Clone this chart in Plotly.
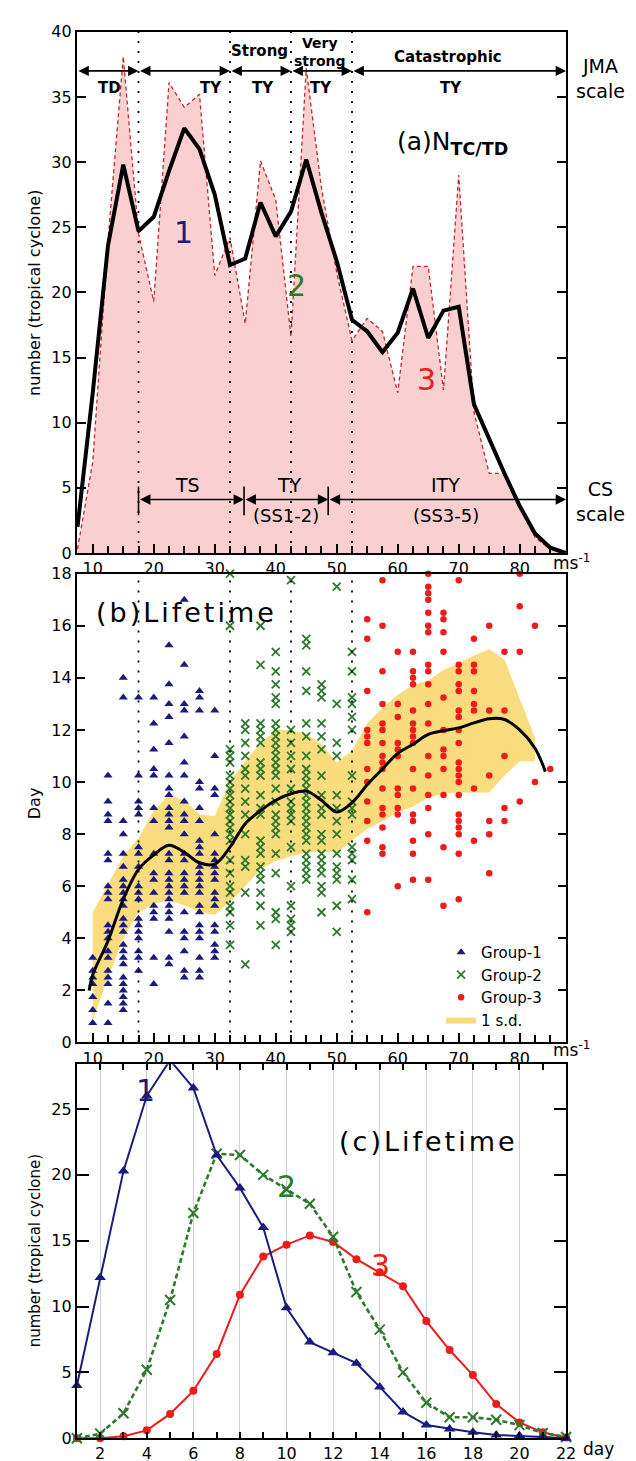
import plotly.graph_objects as go

W, H = 636, 1461
FONT = "DejaVu Sans"

# ---------------- Panel (a) data ----------------
speed_a = [7.5, 10, 12.5, 15, 17.5, 20, 22.5, 25, 27.5, 30, 32.5, 35, 37.5, 40, 42.5, 45,
           47.5, 50, 52.5, 55, 57.5, 60, 62.5, 65, 67.5, 70, 72.5, 75, 77.5, 80, 82.5, 85, 87.5]
count_raw = [0.3, 7.0, 24.0, 38.1, 24.5, 19.3, 36.1, 34.2, 35.2, 21.3, 24.2, 17.6, 30.1, 27.1, 16.6, 37.2,
             28.0, 21.5, 16.3, 18.0, 17.0, 12.3, 22.0, 22.0, 12.5, 29.0, 10.8, 6.1, 6.1, 3.5, 1.2, 0.3, 0.0]
count_smooth = [2.0, 12.3, 23.6, 29.8, 24.7, 25.8, 29.3, 32.6, 31.0, 27.5, 22.1, 22.6, 26.9, 24.3, 26.2, 30.2,
                26.1, 22.4, 17.9, 17.0, 15.4, 16.9, 20.3, 16.5, 18.6, 18.9, 11.4, 8.7, 6.1, 3.6, 1.5, 0.4, 0.0]

jma_bounds = [7.4, 17.5, 32.5, 42.5, 52.5, 87.6]
cs_bounds = [17.5, 34.8, 48.6, 87.6]
dotted_x = [17.5, 32.5, 42.5, 52.5]

# ---------------- Panel (b) data ----------------
g1_speed = [10, 12.5, 15, 17.5, 20, 22.5, 25, 27.5, 30]
g1_days = [
    [3.25, 2.75, 2.5, 2.25, 1.75, 1.25, 0.75],
    [10.25, 9.25, 8.75, 8.5, 7.25, 7.0, 6.0, 5.75, 5.5, 4.5, 4.25, 4.0, 3.5, 3.25, 2.75, 2.5, 2.25, 1.5, 0.75],
    [14.0, 13.25, 8.5, 8.0, 7.25, 6.75, 6.25, 6.0, 5.75, 5.5, 5.25, 4.75, 4.5, 4.25, 3.75, 3.5, 3.25, 3.0,
     2.5, 2.25, 2.0, 1.75, 1.5, 1.25],
    [13.25, 10.25, 9.25, 9.0, 8.75, 7.5, 7.25, 6.75, 6.0, 5.75, 5.5, 4.75, 4.5, 4.25, 4.0, 3.5, 3.25, 2.75],
    [13.25, 12.25, 11.25, 10.5, 10.25, 9.0, 8.5, 7.25, 6.5, 6.25, 5.75, 5.25, 5.0, 4.75, 3.25, 2.25],
    [15.25, 13.75, 13.0, 12.5, 11.5, 10.25, 9.75, 9.5, 9.0, 8.75, 8.5, 8.25, 7.25, 7.0, 6.5, 6.25, 6.0,
     5.75, 5.5, 5.25, 5.0, 4.75, 4.25, 3.25, 3.0],
    [17.0, 14.5, 13.0, 12.75, 11.75, 10.75, 10.25, 9.25, 8.75, 8.5, 8.0, 7.25, 7.0, 6.5, 6.25, 6.0, 5.75,
     5.0, 4.25, 4.0, 3.5, 2.75, 2.5],
    [13.5, 13.25, 12.75, 10.0, 9.75, 9.0, 8.5, 7.75, 7.5, 7.25, 6.75, 6.5, 6.25, 6.0, 5.75, 5.25, 5.0, 4.5,
     4.25, 4.0, 3.25, 2.75, 2.5],
    [12.75, 11.0, 9.75, 9.5, 8.0, 7.25, 7.0, 6.75, 6.5, 6.25, 5.75, 5.5, 5.25, 4.5, 4.25, 3.75, 3.5, 3.25],
]
g2_speed = [32.5, 35, 37.5, 40, 42.5, 45, 47.5, 50, 52.5]
g2_days = [
    [18.0, 16.0, 11.25, 11.0, 10.75, 10.25, 10.0, 9.75, 9.5, 9.25, 9.0, 8.75, 8.5, 8.25, 8.0, 7.75, 7.0,
     6.5, 6.0, 5.75, 5.25, 5.0, 4.5, 3.75],
    [18.75, 12.25, 12.0, 11.5, 11.0, 10.5, 10.25, 9.75, 9.25, 8.75, 8.0, 7.0, 6.75, 5.75, 3.0],
    [16.0, 14.5, 12.25, 12.0, 11.75, 11.5, 10.75, 10.5, 10.25, 9.5, 9.0, 8.75, 7.75, 7.5, 7.25, 6.75, 6.5,
     6.25, 5.75, 5.25, 4.5],
    [15.0, 14.25, 13.75, 13.25, 13.0, 12.25, 12.0, 11.75, 11.5, 11.25, 11.0, 10.75, 10.5, 10.25, 9.75,
     9.25, 8.75, 8.5, 8.25, 8.0, 7.25, 6.5, 5.0, 4.75, 3.75],
    [17.75, 12.0, 11.5, 11.0, 10.5, 9.75, 9.25, 9.0, 8.75, 8.5, 7.5, 6.0, 5.25, 4.75, 4.5, 4.25],
    [15.5, 15.25, 14.25, 13.5, 12.25, 11.75, 11.0, 10.5, 10.25, 10.0, 9.75, 9.5, 9.25, 9.0, 8.75, 8.5,
     8.25, 8.0, 7.75, 7.25, 7.0, 6.75, 6.5, 6.25],
    [13.75, 13.5, 13.25, 12.25, 11.75, 11.25, 10.25, 9.5, 9.0, 8.75, 8.0, 7.75, 7.25, 7.0, 6.75, 6.5, 6.0,
     5.75, 5.0],
    [17.5, 13.0, 11.5, 11.0, 9.5, 9.0, 8.5, 8.0, 7.25, 6.75, 6.5, 6.25, 5.25, 4.25],
    [15.0, 14.25, 13.25, 13.0, 12.5, 12.0, 10.25, 9.25, 9.0, 8.75, 7.5, 7.25, 7.0, 6.25, 5.5],
]
g3_speed = [55, 57.5, 60, 62.5, 65, 67.5, 70, 72.5, 75, 77.5, 80, 82.5, 85]
g3_days = [
    [16.25, 15.5, 13.5, 12.0, 11.75, 11.5, 10.5, 10.0, 9.25, 8.5, 7.75, 5.0],
    [17.75, 16.0, 14.25, 13.0, 12.25, 12.0, 11.5, 11.0, 10.75, 10.5, 9.75, 9.0, 8.75, 8.25, 7.5, 7.25],
    [15.0, 13.0, 12.5, 11.5, 11.25, 11.0, 9.75, 9.5, 9.0, 8.75, 6.0],
    [15.0, 14.25, 14.0, 13.75, 12.75, 12.25, 12.0, 11.75, 11.5, 10.5, 9.75, 8.75, 8.5, 7.75, 7.25, 6.25],
    [18.0, 17.5, 17.25, 17.0, 16.5, 16.0, 15.75, 14.5, 14.25, 13.75, 13.0, 12.25, 11.0, 10.25, 9.5, 9.0,
     8.0, 6.25],
    [16.5, 16.25, 15.75, 15.0, 13.25, 12.0, 11.25, 11.0, 10.5, 9.5, 7.5, 5.25],
    [18.25, 17.75, 14.5, 14.25, 13.75, 13.5, 12.75, 12.5, 12.0, 11.5, 10.75, 10.5, 10.25, 10.0, 9.5, 8.75,
     8.5, 8.25, 8.0, 7.25, 5.5],
    [15.5, 14.5, 14.25, 13.5, 13.0, 12.75, 9.75, 7.75],
    [16.0, 12.75, 10.25, 8.5, 8.0, 6.5],
    [18.75, 18.5, 15.0, 12.75, 11.0, 9.0, 8.5],
    [18.0, 16.75, 15.0, 9.25],
    [16.0, 10.0],
    [10.5],
]

curve_x = [9.4, 10, 12.5, 15, 17.5, 20, 22.5, 25, 27.5, 30, 32.5, 35, 37.5, 40, 42.5, 45, 47.5, 50,
           52.5, 55, 57.5, 60, 62.5, 65, 67.5, 70, 72.5, 75, 77.5, 80, 82.5, 84.2]
curve_y = [2.0, 2.6, 3.9, 5.5, 6.65, 7.2, 7.57, 7.3, 6.9, 6.85, 7.5, 8.4, 8.9, 9.3, 9.55, 9.65, 9.3, 8.85,
           9.2, 9.9, 10.5, 11.1, 11.45, 11.83, 11.97, 12.08, 12.27, 12.43, 12.4, 12.0, 11.3, 10.4]

band_x = [10, 12.5, 15, 17.5, 20, 22.5, 25, 27.5, 30, 32.5, 35, 37.5, 40, 42.5, 45, 47.5, 50, 52.5,
          55, 57.5, 60, 62.5, 65, 67.5, 70, 72.5, 75, 77.5, 80, 82.5]
band_hi = [5.0, 6.1, 7.15, 7.85, 8.9, 9.5, 9.3, 8.75, 8.7, 10.0, 10.8, 11.5, 12.0, 12.0, 11.85, 11.45,
           10.75, 11.2, 12.27, 12.84, 13.35, 13.73, 13.9, 14.3, 14.55, 14.86, 15.1, 14.7, 13.2, 11.7]
band_lo = [0.85, 2.5, 4.0, 5.0, 5.33, 5.45, 5.27, 5.0, 4.9, 5.4, 6.0, 6.65, 6.97, 7.15, 7.3, 7.3, 7.3,
           7.75, 8.2, 8.5, 8.85, 9.05, 9.4, 9.55, 9.6, 9.6, 9.6, 10.25, 10.8, 10.8]

# ---------------- Panel (c) data ----------------
days = [1, 2, 3, 4, 5, 6, 7, 8, 9, 10, 11, 12, 13, 14, 15, 16, 17, 18, 19, 20, 21, 22]
life_g1 = [4.0, 12.2, 20.3, 26.0, 28.7, 26.6, 21.5, 19.0, 16.0, 9.9, 7.3, 6.5, 5.7, 3.9, 2.0, 1.0, 0.7,
           0.45, 0.25, 0.2, 0.1, 0.0]
life_g2 = [0.0, 0.35, 1.9, 5.2, 10.5, 17.1, 21.6, 21.5, 20.0, 18.9, 17.8, 15.3, 11.1, 8.25, 5.0, 2.7, 1.6,
           1.6, 1.4, 1.0, 0.4, 0.1]
life_g3 = [0.0, 0.0, 0.15, 0.6, 1.85, 3.6, 6.4, 10.9, 13.8, 14.7, 15.4, 14.9, 13.6, 12.6, 11.55, 8.9, 6.7,
           4.8, 2.6, 1.2, 0.45, 0.05]

NAVY = "#1B1B7E"
GREEN = "#2C7A2C"
RED = "#EE1B1B"
PINK = "#F9CFCF"
DKRED = "#C0282D"
YELLOW = "#F9DC7D"


def expand(speeds, cols):
    xs, ys = [], []
    for s, col in zip(speeds, cols):
        for d in col:
            xs.append(s)
            ys.append(d)
    return xs, ys


def px_x(p):
    return p / W


def px_y(p):
    return (H - p) / H


fig = go.Figure()

# ---- panel a traces
fig.add_trace(go.Scatter(x=speed_a, y=count_raw, mode="lines", fill="tozeroy", fillcolor=PINK,
                         line=dict(color=DKRED, width=1.3, dash="4px,3px"), showlegend=False,
                         xaxis="x", yaxis="y"))
fig.add_trace(go.Scatter(x=speed_a, y=count_smooth, mode="lines",
                         line=dict(color="black", width=4), showlegend=False, xaxis="x", yaxis="y"))

# ---- panel b traces
fig.add_trace(go.Scatter(x=band_x + band_x[::-1], y=band_hi + band_lo[::-1], mode="lines",
                         fill="toself", fillcolor=YELLOW, line=dict(width=0, color=YELLOW),
                         name="1 s.d.", legendrank=4, xaxis="x2", yaxis="y2"))
x1, y1 = expand(g1_speed, g1_days)
x2, y2 = expand(g2_speed, g2_days)
x3, y3 = expand(g3_speed, g3_days)
fig.add_trace(go.Scatter(x=x1, y=y1, mode="markers", name="Group-1", legendrank=1, cliponaxis=False,
                         marker=dict(symbol="triangle-up", size=8, color=NAVY), xaxis="x2", yaxis="y2"))
fig.add_trace(go.Scatter(x=x2, y=y2, mode="markers", name="Group-2", legendrank=2, cliponaxis=False,
                         marker=dict(symbol="x-thin", size=8, color=GREEN,
                                     line=dict(color=GREEN, width=1.8)), xaxis="x2", yaxis="y2"))
fig.add_trace(go.Scatter(x=x3, y=y3, mode="markers", name="Group-3", legendrank=3, cliponaxis=False,
                         marker=dict(symbol="circle", size=6.5, color=RED), xaxis="x2", yaxis="y2"))
fig.add_trace(go.Scatter(x=curve_x, y=curve_y, mode="lines", line=dict(color="black", width=3, shape="spline"),
                         showlegend=False, xaxis="x2", yaxis="y2"))

# ---- panel c traces
fig.add_trace(go.Scatter(x=days, y=life_g3, mode="lines+markers", cliponaxis=False, showlegend=False,
                         line=dict(color=RED, width=2), marker=dict(symbol="circle", size=8, color=RED),
                         xaxis="x3", yaxis="y3"))
fig.add_trace(go.Scatter(x=days, y=life_g2, mode="lines+markers", cliponaxis=False, showlegend=False,
                         line=dict(color=GREEN, width=2.6, dash="5px,3px"),
                         marker=dict(symbol="x-thin", size=10, color=GREEN, line=dict(color=GREEN, width=2)),
                         xaxis="x3", yaxis="y3"))
fig.add_trace(go.Scatter(x=days, y=life_g1, mode="lines+markers", cliponaxis=False, showlegend=False,
                         line=dict(color=NAVY, width=2), marker=dict(symbol="triangle-up", size=10, color=NAVY),
                         xaxis="x3", yaxis="y3"))

# ---- axes
XD = [70 / W, 567 / W]
tickfont = dict(family=FONT, size=16, color="black")
common = dict(showline=True, linecolor="black", linewidth=2, zeroline=False, showgrid=False,
              tickfont=tickfont, ticks="inside", tickcolor="black", tickwidth=1.5)

fig.update_layout(
    xaxis=dict(domain=XD, anchor="y", range=[7.4, 87.6], tick0=10, dtick=10, ticklen=9, mirror=True,
               minor=dict(dtick=2.5, tick0=0, ticks="inside", ticklen=7, tickcolor="black", tickwidth=1.5),
               **common),
    yaxis=dict(domain=[px_y(543), px_y(15)], anchor="x", range=[0, 40], tick0=0, dtick=5, ticklen=9,
               mirror="ticks", **common),
    xaxis2=dict(domain=XD, anchor="y2", range=[7.4, 87.6], tick0=10, dtick=10, ticklen=9, mirror=True,
                minor=dict(dtick=2.5, tick0=0, ticks="inside", ticklen=7, tickcolor="black", tickwidth=1.5),
                **common),
    yaxis2=dict(domain=[px_y(1039), px_y(564)], anchor="x2", range=[0, 18], tick0=0, dtick=2, ticklen=8,
                mirror="ticks", **common),
    xaxis3=dict(domain=XD, anchor="y3", range=[1, 22], tick0=2, dtick=2, ticklen=6, mirror="allticks",
                minor=dict(dtick=1, tick0=0, ticks="inside", ticklen=6, tickcolor="black", tickwidth=1.5),
                **{**common, "showgrid": True}, gridcolor="#D0D0D0", gridwidth=1),
    yaxis3=dict(domain=[px_y(1440), px_y(1061)], anchor="x3", range=[0, 28.4], tick0=0, dtick=5, ticklen=12,
                mirror="ticks", **common),
)

# ---- shapes: dotted lines, CS bars
shapes = []
for xv in dotted_x:
    shapes.append(dict(type="line", xref="x", yref="y", x0=xv, x1=xv, y0=0, y1=40, layer="above",
                       line=dict(color="black", width=1.8, dash="2px,8px")))
    shapes.append(dict(type="line", xref="x2", yref="y2", x0=xv, x1=xv, y0=0, y1=18, layer="above",
                       line=dict(color="black", width=1.8, dash="2px,8px")))
for xv in cs_bounds[:-1]:
    shapes.append(dict(type="line", xref="x", yref="y", x0=xv, x1=xv, y0=2.9, y1=5.1, layer="above",
                       line=dict(color="black", width=1.6)))
fig.update_layout(shapes=shapes)

ann = []


def arrow(x0, x1, y):
    ann.append(dict(x=x1, y=y, ax=x0, ay=y, xref="x", yref="y", axref="x", ayref="y", text="",
                    showarrow=True, arrowhead=2, startarrowhead=2, arrowside="end+start",
                    arrowsize=1.3, startarrowsize=1.3, arrowwidth=1.6, arrowcolor="black",
                    standoff=0, startstandoff=0))


for a, b in zip(jma_bounds[:-1], jma_bounds[1:]):
    arrow(a, b, 37.0)
for a, b in zip(cs_bounds[:-1], cs_bounds[1:]):
    arrow(a, b, 4.1)


def txt(text, x, y, size, color="black", bold=False, xref="x", yref="y", angle=0, xanchor="center",
        family=FONT):
    ann.append(dict(text=("<b>%s</b>" % text) if bold else text, x=x, y=y, xref=xref, yref=yref,
                    showarrow=False, textangle=angle, xanchor=xanchor, yanchor="middle",
                    font=dict(family=family, size=size, color=color)))


# JMA labels
txt("TD", 12.7, 35.7, 15, bold=True)
txt("TY", 29.4, 35.7, 15, bold=True)
txt("Strong", 37.4, 38.5, 15, bold=True)
txt("TY", 37.9, 35.7, 15, bold=True)
txt("Very<br>strong", 47.3, 38.45, 14, bold=True)
txt("TY", 47.5, 35.7, 15, bold=True)
txt("Catastrophic", 68.2, 38.1, 15, bold=True)
txt("TY", 68.7, 35.7, 15, bold=True)
# CS labels
txt("TS", 25.6, 5.2, 19)
txt("TY", 42.3, 5.2, 19)
txt("(SS1-2)", 41.6, 2.85, 18)
txt("ITY", 67.9, 5.2, 19)
txt("(SS3-5)", 67.9, 2.85, 18)
# scale names
txt("JMA<br>scale", px_x(602), px_y(62), 19, xref="paper", yref="paper")
txt("CS<br>scale", px_x(602), px_y(491), 19, xref="paper", yref="paper")
# panel titles
txt("(a)N<sub><b>TC/TD</b></sub>", 69.0, 31.5, 25)
LS = '<span style="letter-spacing:3px">%s</span>'
txt(LS % "(b)Lifetime", 25.3, 16.5, 27, xref="x2", yref="y2")
txt(LS % "(c)Lifetime", 16.1, 22.5, 27, xref="x3", yref="y3")
# group numbers
txt("1", 24.8, 24.6, 30, color=NAVY)
txt("2", 43.4, 20.5, 30, color=GREEN)
txt("3", 64.7, 13.3, 30, color=RED)
txt("1", 3.95, 26.4, 30, color=NAVY, xref="x3", yref="y3")
txt("2", 10.0, 19.1, 30, color=GREEN, xref="x3", yref="y3")
txt("3", 14.05, 13.1, 30, color=RED, xref="x3", yref="y3")
# axis titles
txt("number (tropical cyclone)", px_x(27), px_y(280), 16, xref="paper", yref="paper", angle=-90)
txt("Day", px_x(27), px_y(797), 16, xref="paper", yref="paper", angle=-90)
txt("number (tropical cyclone)", px_x(27), px_y(1250), 15, xref="paper", yref="paper", angle=-90)
# units
txt("ms<sup>-1</sup>", px_x(572), px_y(552), 17, xref="paper", yref="paper")
txt("ms<sup>-1</sup>", px_x(572), px_y(1046), 17, xref="paper", yref="paper")
txt("day", px_x(600), px_y(1451), 17, xref="paper", yref="paper")

fig.update_layout(
    annotations=ann,
    width=W, height=H, autosize=False,
    margin=dict(l=0, r=0, t=0, b=0),
    paper_bgcolor="white", plot_bgcolor="white",
    font=dict(family=FONT, color="black"),
    legend=dict(x=px_x(440), y=px_y(931), xanchor="left", yanchor="top",
                bgcolor="rgba(0,0,0,0)", font=dict(family=FONT, size=15, color="black"),
                itemwidth=30, tracegroupgap=0),
)

fig.write_html("out.html")
